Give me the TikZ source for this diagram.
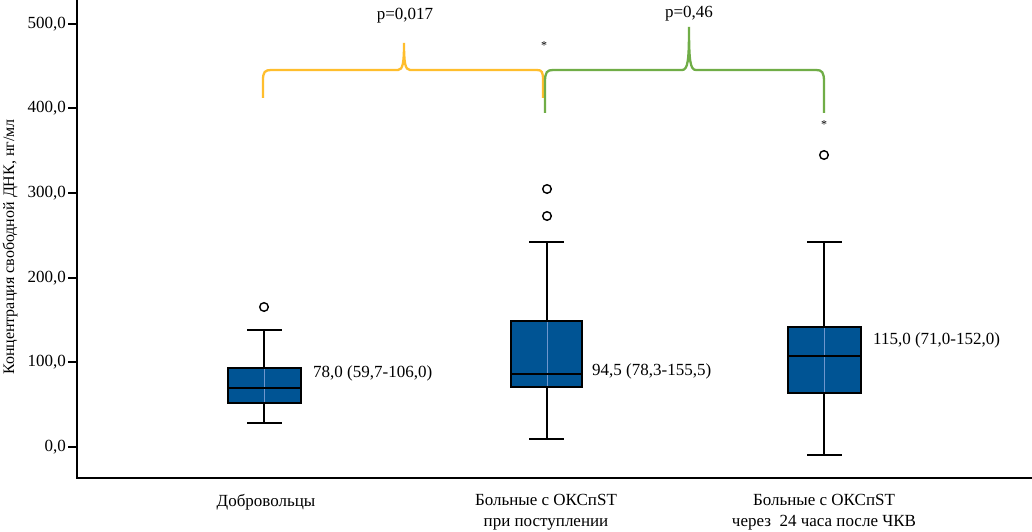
\documentclass[tikz,border=0pt]{standalone}
\usepackage{fontspec}
\setmainfont{Liberation Serif}
\begin{document}
\begin{tikzpicture}[x=1pt,y=-1pt,
  txt/.style={font=\fontsize{17}{21}\selectfont, inner sep=0pt},
  boxfill/.style={fill=boxblue, draw=black, line width=1.2pt},
  whisk/.style={draw=black, line width=1.3pt},
  med/.style={draw=black, line width=2.4pt},
  inner/.style={draw=innerblue, line width=0.8pt},
  outl/.style={draw=black, line width=1.4pt, fill=white},
  axis/.style={draw=black, line width=1.2pt},
  star/.style={font=\fontsize{12}{12}\selectfont, inner sep=0pt},
  ybrace/.style={draw=braceyellow, line width=2.3pt},
  gbrace/.style={draw=bracegreen, line width=2.3pt}]
\definecolor{boxblue}{RGB}{0,84,148}
\definecolor{innerblue}{RGB}{110,150,205}
\definecolor{braceyellow}{RGB}{255,190,45}
\definecolor{bracegreen}{RGB}{112,173,71}
\useasboundingbox (0,0) rectangle (1032,532);
\fill[white] (0,0) rectangle (1032,532);

% axes
\coordinate (ytop) at (77,0);
\coordinate (orig) at (77,478);
\coordinate (xend) at (1032,478);
\draw[axis] (ytop) -- (orig) -- (xend);
\foreach \v/\yy in {0/447,100/362,200/278,300/193,400/108,500/24}{
  \draw[axis] (68,\yy) -- (77,\yy);
  \node[txt, anchor=east] (t\v) at (66,\yy) {\v,0};
}
\node[txt, font=\fontsize{16}{19}\selectfont, rotate=90] (ylab) at (10,247) {Концентрация свободной ДНК, нг/мл};

% box 1
\draw[whisk] (264,330) -- (264,423);
\draw[whisk] (247,330) -- (282,330);
\draw[whisk] (247,423) -- (282,423);
\draw[boxfill] (228,368) rectangle (301,403);
\draw[inner] (264,369) -- (264,402);
\draw[med] (228,388) -- (301,388);
\draw[outl] (264,307) circle (4.3);
\node[txt, anchor=west] (l1) at (313,373) {78,0 (59,7-106,0)};

% box 2
\draw[whisk] (547,242) -- (547,439);
\draw[whisk] (529,242) -- (564,242);
\draw[whisk] (529,439) -- (564,439);
\draw[boxfill] (511,321) rectangle (582,387);
\draw[inner] (547,322) -- (547,386);
\draw[med] (511,374) -- (582,374);
\draw[outl] (547,189) circle (4.3);
\draw[outl] (547,216) circle (4.3);
\node[txt, anchor=west] (l2) at (592,371) {94,5 (78,3-155,5)};

% box 3
\draw[whisk] (824,242) -- (824,455);
\draw[whisk] (807,242) -- (842,242);
\draw[whisk] (807,455) -- (842,455);
\draw[boxfill] (788,327) rectangle (861,393);
\draw[inner] (824,328) -- (824,392);
\draw[med] (788,356) -- (861,356);
\draw[outl] (824,155) circle (4.3);
\node[txt, anchor=west] (l3) at (873,340) {115,0 (71,0-152,0)};

% braces
\draw[ybrace] (263,98) -- (263,80) .. controls (263,72) and (265,70) .. (271,70)
  -- (398,70) .. controls (403,70) and (404,62) .. (404,43)
  .. controls (404,62) and (405,70) .. (410,70) -- (537,70)
  .. controls (542,70) and (543,72) .. (543,80) -- (543,98);
\draw[gbrace] (545,113) -- (545,82) .. controls (545,72) and (547,70) .. (553,70)
  -- (682,70) .. controls (688,70) and (689,60) .. (689,27)
  .. controls (689,60) and (690,70) .. (696,70) -- (816,70)
  .. controls (822,70) and (824,72) .. (824,82) -- (824,113);

\node[txt] (p1) at (405,16) {p=0,017};
\node[txt] (p2) at (689,14) {p=0,46};
\node[star] (s1) at (544,46) {*};
\node[star] (s2) at (824,125) {*};

% x labels
\node[txt] (c1) at (266,502) {Добровольцы};
\node[txt, align=center] (c2) at (546,512) {Больные с ОКСпST\\при поступлении};
\node[txt, align=center] (c3) at (824,512) {Больные с ОКСпST\\через~ 24 часа после ЧКВ};
\end{tikzpicture}
\end{document}
